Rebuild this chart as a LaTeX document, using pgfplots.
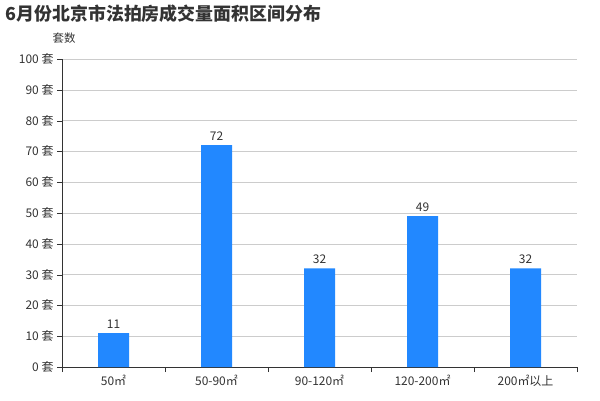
\documentclass[border=0pt]{standalone}
\usepackage{pgfplots}
\pgfplotsset{compat=1.18}
\usepackage{fontspec}
\setmainfont{Noto Sans CJK SC}
\definecolor{barblue}{HTML}{2288FF}
\definecolor{txt}{HTML}{333333}
\definecolor{gridc}{HTML}{CCCCCC}
\begin{document}
\begin{tikzpicture}[x=1bp,y=1bp]
\path[use as bounding box] (0,0) rectangle (600,400);
\node[anchor=west,font=\fontsize{18}{20}\selectfont\bfseries,text=txt] at (2,386) {6月份北京市法拍房成交量面积区间分布};
\node[font=\fontsize{11.5}{13}\selectfont,text=txt] at (64,362) {套数};
\begin{axis}[
  at={(62bp,33bp)}, anchor=south west,
  scale only axis, width=515bp, height=308bp,
  xmin=-0.5, xmax=4.5, ymin=0, ymax=100,
  ytick={0,10,...,100},
  yticklabel={\pgfmathprintnumber{\tick} 套},
  xtick={0,1,2,3,4},
  xticklabels={50㎡,50-90㎡,90-120㎡,120-200㎡,200㎡以上},
  minor xtick={-0.5,0.5,1.5,2.5,3.5,4.5},
  tick align=outside, major tick length=5bp, minor tick length=5bp,
  major x tick style={draw=none},
  minor x tick style={draw=txt, line width=0.8pt},
  xtick pos=bottom, ytick pos=left,
  ymajorgrids, grid style={gridc, line width=0.6pt},
  axis x line*=bottom, axis y line*=left,
  axis line style={txt, line width=0.8pt},
  y tick style={txt},
  ticklabel style={font=\fontsize{12}{14}\selectfont, text=txt},
  /pgf/number format/assume math mode=true,
  ybar, bar width=31bp,
  nodes near coords,
  nodes near coords style={font=\fontsize{12}{14}\selectfont, text=txt, yshift=1bp},
  clip=false,
]
\addplot[fill=barblue, draw=none] coordinates {(0,11) (1,72) (2,32) (3,49) (4,32)};
\end{axis}
\end{tikzpicture}
\end{document}
